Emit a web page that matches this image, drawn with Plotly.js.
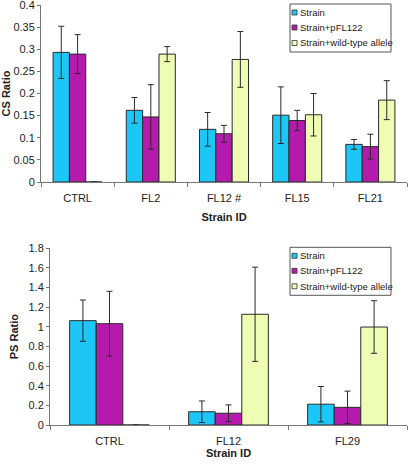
<!DOCTYPE html>
<html>
<head>
<meta charset="utf-8">
<script src="https://cdn.plot.ly/plotly-3.0.1.min.js"></script>
<style>html,body{margin:0;padding:0;background:#fff;}#chart{width:410px;height:464px;}</style>
</head>
<body>
<div id="chart"></div>
<script>
// Top chart (CS Ratio)
var csCategories = ["CTRL", "FL2", "FL12 #", "FL15", "FL21"];
var csStrain      = [0.293, 0.162, 0.119, 0.151, 0.085];
var csStrainErr   = [0.059, 0.029, 0.038, 0.064, 0.011];
var csPFL122      = [0.289, 0.147, 0.109, 0.139, 0.080];
var csPFL122Err   = [0.044, 0.073, 0.019, 0.023, 0.028];
var csWild        = [0, 0.289, 0.277, 0.152, 0.185];
var csWildErr     = [0, 0.017, 0.063, 0.048, 0.044];

// Bottom chart (PS Ratio)
var psCategories = ["CTRL", "FL12", "FL29"];
var psStrain      = [1.063, 0.135, 0.212];
var psStrainErr   = [0.21, 0.11, 0.18];
var psPFL122      = [1.032, 0.120, 0.180];
var psPFL122Err   = [0.33, 0.085, 0.165];
var psWild        = [0, 1.128, 0.998];
var psWildErr     = [0, 0.48, 0.268];

var seriesNames = ["Strain", "Strain+pFL122", "Strain+wild-type allele"];
var seriesColors = ["#1cc6f6", "#b41aab", "#eefcb4"];

var W = 410, H = 464;
function fx(px){ return px / W; }
function fy(py){ return (H - py) / H; }

function mkTrace(x, y, err, i, xa, ya) {
  return {
    type: "bar", x: x, y: y, name: seriesNames[i],
    xaxis: xa, yaxis: ya, showlegend: false,
    marker: {color: seriesColors[i], line: {color: "#2a2a2a", width: 1}},
    error_y: {type: "data", array: err, visible: true, color: "#2a2a2a", thickness: 1, width: 3}
  };
}

var data = [
  mkTrace(csCategories, csStrain, csStrainErr, 0, "x", "y"),
  mkTrace(csCategories, csPFL122, csPFL122Err, 1, "x", "y"),
  mkTrace(csCategories, csWild, csWildErr, 2, "x", "y"),
  mkTrace(psCategories, psStrain, psStrainErr, 0, "x2", "y2"),
  mkTrace(psCategories, psPFL122, psPFL122Err, 1, "x2", "y2"),
  mkTrace(psCategories, psWild, psWildErr, 2, "x2", "y2")
];

var FONT = "Liberation Sans, Arial, sans-serif";
var tickFont = {family: FONT, size: 11, color: "#222"};
var titleFont = {family: FONT, size: 11, color: "#222", weight: "bold"};

function xAxis(domain, anchor, standoff) {
  return {
    domain: domain, anchor: anchor, type: "category",
    showline: true, linecolor: "#777", linewidth: 1,
    ticks: "outside", tickson: "boundaries", ticklen: 4, tickcolor: "#777",
    ticklabelstandoff: 6,
    tickfont: tickFont, showgrid: false, zeroline: false, automargin: false,
    title: {text: "Strain ID", font: titleFont, standoff: standoff}
  };
}
function yAxis(domain, anchor, range, dtick, title, standoff) {
  return {
    domain: domain, anchor: anchor, range: range, dtick: dtick,
    showline: true, linecolor: "#777", linewidth: 1,
    ticks: "outside", ticklen: 3, tickcolor: "#777",
    ticklabeloverflow: "allow",
    tickfont: tickFont, showgrid: false, zeroline: false, automargin: false,
    title: {text: title, font: titleFont, standoff: standoff}
  };
}

// Legend boxes drawn as shapes + text (compact, like the original)
var shapes = [], annotations = [];
function addLegend(left, top) {
  shapes.push({type: "rect", xref: "paper", yref: "paper",
    x0: fx(left), x1: fx(left + 101), y0: fy(top), y1: fy(top + 48),
    line: {color: "#555", width: 1}, fillcolor: "#fff", layer: "above"});
  var offs = [8.5, 23.5, 39];
  for (var i = 0; i < seriesNames.length; i++) {
    var cy = top + offs[i];
    shapes.push({type: "rect", xref: "paper", yref: "paper",
      x0: fx(left + 2), x1: fx(left + 7), y0: fy(cy - 2.5), y1: fy(cy + 2.5),
      line: {color: "#333", width: 0.8}, fillcolor: seriesColors[i], layer: "above"});
    annotations.push({xref: "paper", yref: "paper", x: fx(left + 8), y: fy(cy),
      xanchor: "left", yanchor: "middle", showarrow: false, text: seriesNames[i],
      font: {family: FONT, size: 9.5, color: "#222"}});
  }
}
addLegend(290, 4);
addLegend(290, 247.3);

var layout = {
  width: W, height: H,
  margin: {l: 0, r: 0, t: 0, b: 0},
  paper_bgcolor: "#fff", plot_bgcolor: "#fff",
  barmode: "group", bargap: 0.33, bargroupgap: 0,
  showlegend: false,
  xaxis: xAxis([fx(41), fx(407)], "y", 10),
  yaxis: yAxis([fy(182), fy(5)], "x", [0, 0.40001], 0.05, "CS Ratio", 4),
  xaxis2: xAxis([fx(50), fx(407)], "y2", 3),
  yaxis2: yAxis([fy(425), fy(248.3)], "x2", [0, 1.80001], 0.2, "PS Ratio", 7),
  shapes: shapes,
  annotations: annotations
};

Plotly.newPlot("chart", data, layout, {displayModeBar: false, staticPlot: true});
</script>
</body>
</html>
